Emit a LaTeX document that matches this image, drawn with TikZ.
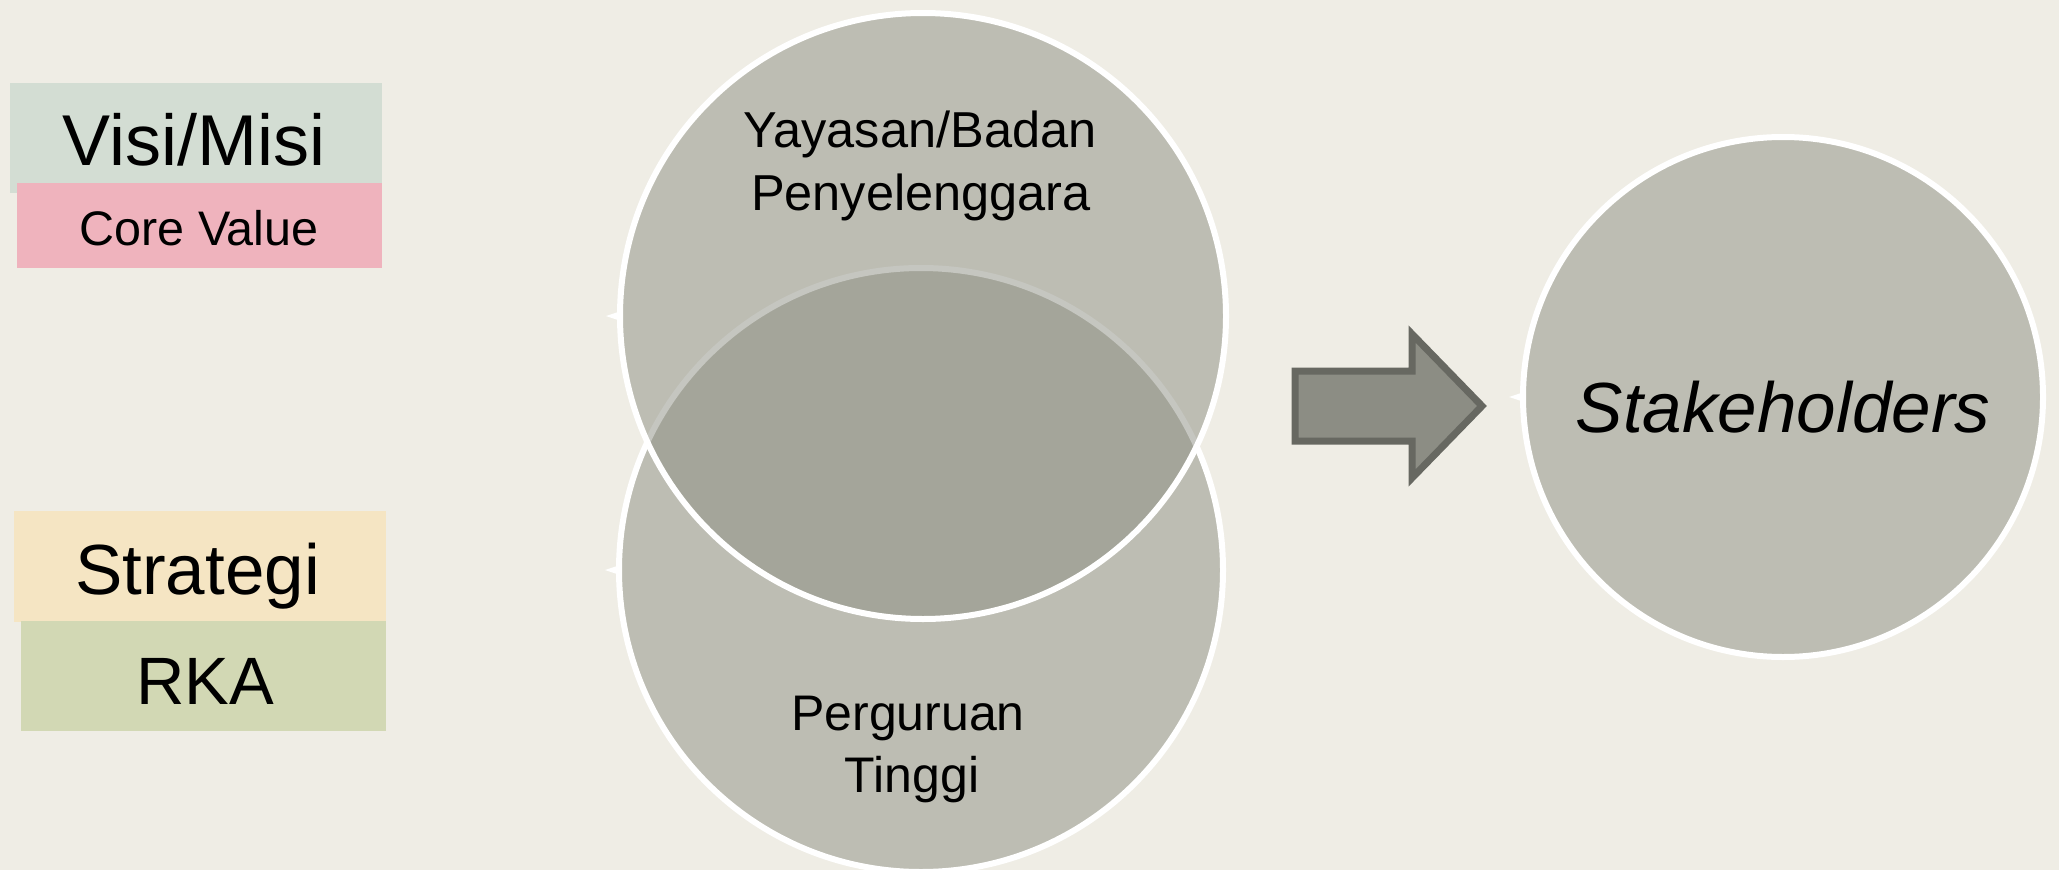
\documentclass[tikz,border=0pt]{standalone}
\usepackage{fontspec}
\setmainfont{Liberation Sans}
\definecolor{bg}{HTML}{EFEDE5}
\definecolor{visi}{HTML}{D3DDD3}
\definecolor{core}{HTML}{EFB3BD}
\definecolor{strat}{HTML}{F5E5C3}
\definecolor{rka}{HTML}{D2D8B4}
\definecolor{vennfill}{RGB}{141,143,131}
\definecolor{arrfill}{HTML}{8C8D84}
\definecolor{arrline}{HTML}{676861}
\begin{document}
\begin{tikzpicture}[x=1pt,y=-1pt,
  rectbox/.style={rectangle, inner sep=0pt, outer sep=0pt, draw=none},
  venn/.style={circle, inner sep=0pt, fill=vennfill, fill opacity=0.5, draw=white, draw opacity=1, line width=6pt},
  lbl/.style={anchor=base, inner sep=0pt, text=black},
  tick/.style={fill=white}]
\useasboundingbox (0,0) rectangle (2059,870);
\fill[bg] (0,0) rectangle (2059,870);
% left boxes
\node[rectbox, fill=visi, minimum width=372pt, minimum height=110pt] (visibox) at (196,138) {};
\node[rectbox, fill=core, minimum width=365pt, minimum height=85pt] (corebox) at (199.5,225.5) {};
\node[rectbox, fill=strat, minimum width=372pt, minimum height=111pt] (stratbox) at (200,566.5) {};
\node[rectbox, fill=rka, minimum width=365pt, minimum height=110pt] (rkabox) at (203.5,676) {};
\node[lbl, font=\fontsize{72}{80}\selectfont] (visitxt) at (194,165) {Visi/Misi};
\node[lbl, font=\fontsize{48.5}{55}\selectfont] (coretxt) at (199,245) {Core Value};
\node[lbl, font=\fontsize{71}{80}\selectfont] (strattxt) at (197.5,594) {Strategi};
\node[lbl, font=\fontsize{67}{80}\selectfont] (rkatxt) at (205.5,704) {RKA};
% venn circles
\node[venn, minimum size=604pt] (pt) at (921,570) {};
\node[venn, minimum size=606pt] (yay) at (923,316) {};
\node[venn, minimum size=520pt] (stake) at (1783,397) {};
% small white notches on the left edges
\fill[tick] (yay.west) ++(1,-4) -- ++(-12,4) -- ++(12,4) -- cycle;
\fill[tick] (pt.west) ++(1,-4) -- ++(-12,4) -- ++(12,4) -- cycle;
\fill[tick] (stake.west) ++(1,-4) -- ++(-12,4) -- ++(12,4) -- cycle;
\node[lbl, font=\fontsize{50.5}{63}\selectfont] (yay1) at (920,147) {Yayasan/Badan};
\node[lbl, font=\fontsize{50.5}{63}\selectfont] (yay2) at (921,210) {Penyelenggara};
\node[lbl, font=\fontsize{50}{63}\selectfont] (pt1) at (908,730) {Perguruan};
\node[lbl, font=\fontsize{50}{63}\selectfont] (pt2) at (912,792) {Tinggi};
\node[lbl, font=\fontsize{71}{80}\selectfont\itshape] (staketxt) at (1783,432) {Stakeholders};
% block arrow
\draw[fill=arrfill, draw=arrline, line width=7pt, line join=miter]
  (1295,371) -- (1412,371) -- (1412,334) -- (1482,406) -- (1412,478) -- (1412,441) -- (1295,441) -- cycle;
\end{tikzpicture}
\end{document}
